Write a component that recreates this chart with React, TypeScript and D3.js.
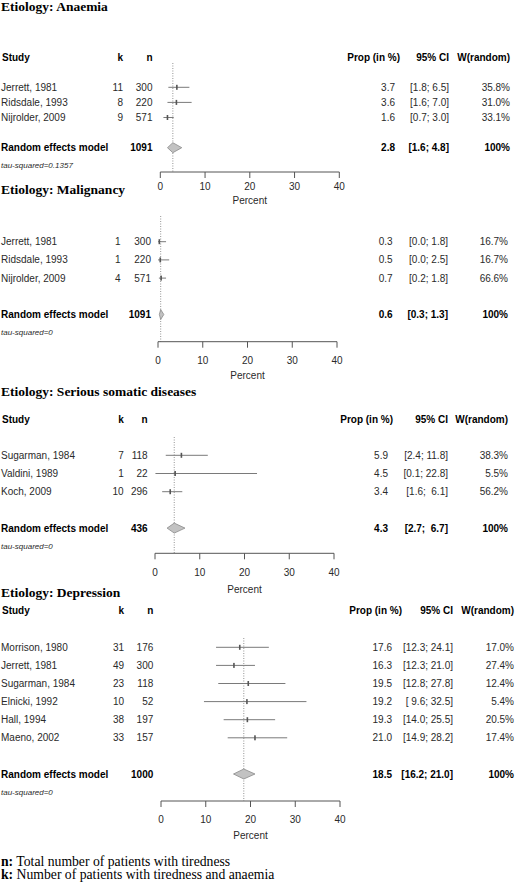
import React from "react";
import * as d3 from "d3";

type Study = { study: string; k: number; n: number; prop: number; lo: number; hi: number; w: number };
type Summary = { n: number; prop: number; lo: number; hi: number; tau: string };

const anaemiaStudies: Study[] = [
  { study: "Jerrett, 1981", k: 11, n: 300, prop: 3.7, lo: 1.8, hi: 6.5, w: 35.8 },
  { study: "Ridsdale, 1993", k: 8, n: 220, prop: 3.6, lo: 1.6, hi: 7.0, w: 31.0 },
  { study: "Nijrolder, 2009", k: 9, n: 571, prop: 1.6, lo: 0.7, hi: 3.0, w: 33.1 },
];
const anaemiaSummary: Summary = { n: 1091, prop: 2.8, lo: 1.6, hi: 4.8, tau: "tau-squared=0.1357" };

const malignancyStudies: Study[] = [
  { study: "Jerrett, 1981", k: 1, n: 300, prop: 0.3, lo: 0.0, hi: 1.8, w: 16.7 },
  { study: "Ridsdale, 1993", k: 1, n: 220, prop: 0.5, lo: 0.0, hi: 2.5, w: 16.7 },
  { study: "Nijrolder, 2009", k: 4, n: 571, prop: 0.7, lo: 0.2, hi: 1.8, w: 66.6 },
];
const malignancySummary: Summary = { n: 1091, prop: 0.6, lo: 0.3, hi: 1.3, tau: "tau-squared=0" };

const somaticStudies: Study[] = [
  { study: "Sugarman, 1984", k: 7, n: 118, prop: 5.9, lo: 2.4, hi: 11.8, w: 38.3 },
  { study: "Valdini, 1989", k: 1, n: 22, prop: 4.5, lo: 0.1, hi: 22.8, w: 5.5 },
  { study: "Koch, 2009", k: 10, n: 296, prop: 3.4, lo: 1.6, hi: 6.1, w: 56.2 },
];
const somaticSummary: Summary = { n: 436, prop: 4.3, lo: 2.7, hi: 6.7, tau: "tau-squared=0" };

const depressionStudies: Study[] = [
  { study: "Morrison, 1980", k: 31, n: 176, prop: 17.6, lo: 12.3, hi: 24.1, w: 17.0 },
  { study: "Jerrett, 1981", k: 49, n: 300, prop: 16.3, lo: 12.3, hi: 21.0, w: 27.4 },
  { study: "Sugarman, 1984", k: 23, n: 118, prop: 19.5, lo: 12.8, hi: 27.8, w: 12.4 },
  { study: "Elnicki, 1992", k: 10, n: 52, prop: 19.2, lo: 9.6, hi: 32.5, w: 5.4 },
  { study: "Hall, 1994", k: 38, n: 197, prop: 19.3, lo: 14.0, hi: 25.5, w: 20.5 },
  { study: "Maeno, 2002", k: 33, n: 157, prop: 21.0, lo: 14.9, hi: 28.2, w: 17.4 },
];
const depressionSummary: Summary = { n: 1000, prop: 18.5, lo: 16.2, hi: 21.0, tau: "tau-squared=0" };

const panelTitles = ["Etiology: Anaemia", "Etiology: Malignancy", "Etiology: Serious somatic diseases", "Etiology: Depression"];
const axisTicks = [0, 10, 20, 30, 40];
const axisDomain = [0, 40];
const headers = { study: "Study", k: "k", n: "n", prop: "Prop (in %)", ci: "95% CI", w: "W(random)" };
const reLabel = "Random effects model";
const axisLabel = "Percent";
const footN = ["n:", " Total number of patients with tiredness"];
const footK = ["k:", " Number of patients with tiredness and anaemia"];

type Layout = {
  titleY: number; headerY: number | null; firstRow: number; step: number; tauDy: number;
  axisY: number; tickY: number; labelY: number; dotTop: number;
  x0: number; x1: number; kRight: number; nRight: number;
  propRight: number; propHead: number; ciRight: number; ciHead: number; wRight: number;
};

const layouts: Layout[] = [
  { titleY: 6, headerY: 57, firstRow: 87.3, step: 15.1, tauDy: 17.7, axisY: 172, tickY: 186, labelY: 200, dotTop: 63,
    x0: 160.3, x1: 339.3, kRight: 123, nRight: 152.5, propRight: 395, propHead: 400, ciRight: 449, ciHead: 449, wRight: 510 },
  { titleY: 189.5, headerY: null, firstRow: 241.7, step: 18.2, tauDy: 18, axisY: 341.7, tickY: 360, labelY: 375, dotTop: 216,
    x0: 158, x1: 337, kRight: 120.5, nRight: 151, propRight: 392.7, propHead: 398, ciRight: 448, ciHead: 448, wRight: 508 },
  { titleY: 391.7, headerY: 419.3, firstRow: 455.3, step: 18.2, tauDy: 18.5, axisY: 553.3, tickY: 572.7, labelY: 589, dotTop: 437,
    x0: 155, x1: 334, kRight: 123.7, nRight: 147.7, propRight: 388, propHead: 393, ciRight: 448, ciHead: 448, wRight: 508 },
  { titleY: 592.7, headerY: 610.7, firstRow: 647.3, step: 18.1, tauDy: 18.3, axisY: 801, tickY: 819, labelY: 835.7, dotTop: 638,
    x0: 161, x1: 340, kRight: 124, nRight: 153.3, propRight: 392, propHead: 402, ciRight: 453, ciHead: 453, wRight: 514 },
];

const sans = "'Liberation Sans', Arial, sans-serif";
const serif = "'Liberation Serif', 'Times New Roman', serif";
const f1 = d3.format(".1f");

function Panel({ title, studies, summary, L }: { title: string; studies: Study[]; summary: Summary; L: Layout }) {
  const x = d3.scaleLinear().domain(axisDomain).range([L.x0, L.x1]);
  const rowY = (i: number) => L.firstRow + i * L.step;
  const reY = rowY(studies.length + 1);
  const all = [...studies.map((s) => [s.lo, s.hi]), [summary.lo, summary.hi]];
  const loW = d3.max(all, (d) => f1(d[0]).length) as number;
  const hiW = d3.max(all, (d) => f1(d[1]).length) as number;
  const ci = (lo: number, hi: number) => `[${f1(lo).padStart(loW, " ")}; ${f1(hi).padStart(hiW, " ")}]`;
  const txt = { fontFamily: sans, fontSize: 10, fill: "#2a2a2a", dy: "0.35em" } as any;
  const bold = { fontFamily: sans, fontSize: 10, fontWeight: "bold", fill: "#000", dy: "0.35em" } as any;
  const diamond = `M${x(summary.lo)},${reY} L${x(summary.prop)},${reY - 5} L${x(summary.hi)},${reY} L${x(summary.prop)},${reY + 5} Z`;
  return (
    <g>
      <text x={1} y={L.titleY} dy="0.35em" fontFamily={serif} fontSize={13.5} fontWeight="bold" fill="#000">{title}</text>
      {L.headerY !== null && (
        <g>
          <text {...bold} x={2} y={L.headerY}>{headers.study}</text>
          <text {...bold} x={L.kRight} y={L.headerY} textAnchor="end">{headers.k}</text>
          <text {...bold} x={L.nRight} y={L.headerY} textAnchor="end">{headers.n}</text>
          <text {...bold} x={L.propHead} y={L.headerY} textAnchor="end">{headers.prop}</text>
          <text {...bold} x={L.ciHead} y={L.headerY} textAnchor="end">{headers.ci}</text>
          <text {...bold} x={L.wRight} y={L.headerY} textAnchor="end">{headers.w}</text>
        </g>
      )}
      <line x1={x(summary.prop)} x2={x(summary.prop)} y1={L.dotTop} y2={L.axisY} stroke="#888" strokeWidth={0.9} strokeDasharray="1 1.5" />
      {studies.map((s, i) => (
        <g key={s.study}>
          <text {...txt} x={1} y={rowY(i)}>{s.study}</text>
          <text {...txt} x={L.kRight} y={rowY(i)} textAnchor="end">{s.k}</text>
          <text {...txt} x={L.nRight} y={rowY(i)} textAnchor="end">{s.n}</text>
          <line x1={x(s.lo)} x2={x(s.hi)} y1={rowY(i)} y2={rowY(i)} stroke="#7a7a7a" strokeWidth={1} />
          <rect x={x(s.prop) - 0.8} y={rowY(i) - 2.5} width={1.6} height={5} fill="#555" />
          <text {...txt} x={L.propRight} y={rowY(i)} textAnchor="end">{f1(s.prop)}</text>
          <text {...txt} x={L.ciRight} y={rowY(i)} textAnchor="end" style={{ whiteSpace: "pre" }}>{ci(s.lo, s.hi)}</text>
          <text {...txt} x={L.wRight} y={rowY(i)} textAnchor="end">{f1(s.w) + "%"}</text>
        </g>
      ))}
      <text {...bold} x={1} y={reY}>{reLabel}</text>
      <text {...bold} x={L.nRight} y={reY} textAnchor="end">{summary.n}</text>
      <path d={diamond} fill="#c2c2c2" stroke="#8a8a8a" strokeWidth={0.8} />
      <text {...bold} x={L.propRight} y={reY} textAnchor="end">{f1(summary.prop)}</text>
      <text {...bold} x={L.ciRight} y={reY} textAnchor="end" style={{ whiteSpace: "pre" }}>{ci(summary.lo, summary.hi)}</text>
      <text {...bold} x={L.wRight} y={reY} textAnchor="end">100%</text>
      <text x={1} y={reY + L.tauDy} dy="0.35em" fontFamily={sans} fontSize={8} fontStyle="italic" fill="#2a2a2a">{summary.tau}</text>
      <line x1={x(axisDomain[0])} x2={x(axisDomain[1])} y1={L.axisY} y2={L.axisY} stroke="#555" strokeWidth={1} />
      {axisTicks.map((t) => (
        <g key={t}>
          <line x1={x(t)} x2={x(t)} y1={L.axisY} y2={L.axisY + 6} stroke="#555" strokeWidth={1} />
          <text {...txt} x={x(t)} y={L.tickY} textAnchor="middle">{t}</text>
        </g>
      ))}
      <text {...txt} x={(L.x0 + L.x1) / 2} y={L.labelY} textAnchor="middle">{axisLabel}</text>
    </g>
  );
}

export default function App() {
  const panels = [
    [anaemiaStudies, anaemiaSummary],
    [malignancyStudies, malignancySummary],
    [somaticStudies, somaticSummary],
    [depressionStudies, depressionSummary],
  ] as [Study[], Summary][];
  return (
    <svg width={522} height={883} style={{ position: "absolute", left: 0, top: 0, background: "#fff" }}>
      <rect width={522} height={883} fill="#fff" />
      {panels.map(([s, sum], i) => (
        <Panel key={i} title={panelTitles[i]} studies={s} summary={sum} L={layouts[i]} />
      ))}
      <text x={1} y={865.5} fontFamily={serif} fontSize={13.7} fill="#000">
        <tspan fontWeight="bold">{footN[0]}</tspan>
        <tspan style={{ whiteSpace: "pre" }}>{footN[1]}</tspan>
      </text>
      <text x={1} y={879.3} fontFamily={serif} fontSize={13.7} fill="#000">
        <tspan fontWeight="bold">{footK[0]}</tspan>
        <tspan style={{ whiteSpace: "pre" }}>{footK[1]}</tspan>
      </text>
    </svg>
  );
}
